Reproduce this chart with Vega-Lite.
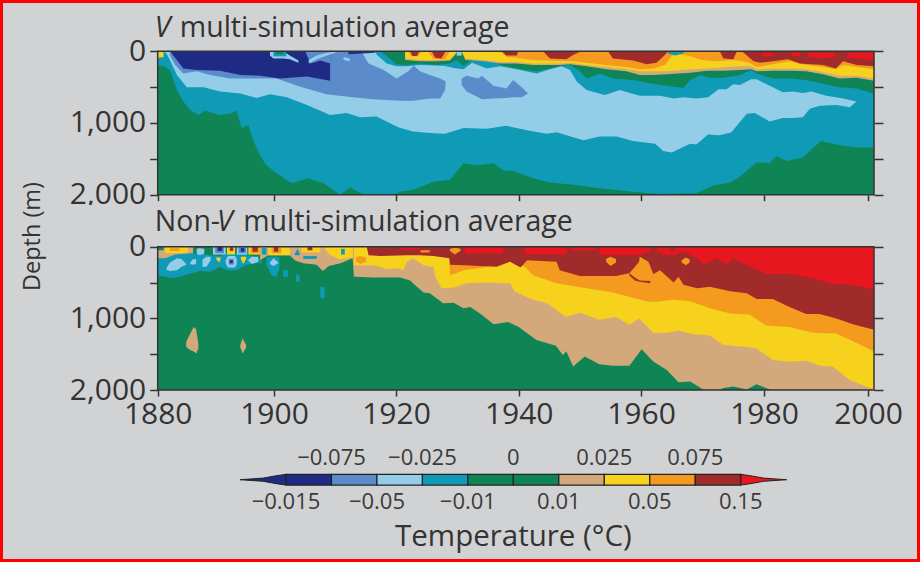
{"$schema":"https://vega.github.io/schema/vega-lite/v6.json","background":"#ff0000","padding":3,"bounds":"flush","spacing":0,"config":{"view":{"stroke":null,"fill":"#d1d2d4"},"font":"Open Sans","axis":{"grid":false,"domain":false,"title":null,"tickColor":"#333333","tickWidth":1.5,"labelColor":"#333333","labelFont":"Open Sans","labelFontSize":30,"labelOverlap":false,"labelFlush":false}},
"datasets":{
"v":[
{"band":"green","poly":"g0","year":1880,"top":0,"bottom":2000},{"band":"green","poly":"g0","year":2001,"top":0,"bottom":2000},
{"band":"teal","poly":"t1","year":1880,"top":0,"bottom":190},{"band":"teal","poly":"t1","year":1881,"top":0,"bottom":210},{"band":"teal","poly":"t1","year":1882.1,"top":0,"bottom":260},{"band":"teal","poly":"t1","year":1883.3,"top":0,"bottom":540},{"band":"teal","poly":"t1","year":1884.4,"top":0,"bottom":700},{"band":"teal","poly":"t1","year":1885.6,"top":0,"bottom":820},{"band":"teal","poly":"t1","year":1887,"top":0,"bottom":890},{"band":"teal","poly":"t1","year":1888.1,"top":0,"bottom":830},{"band":"teal","poly":"t1","year":1890.7,"top":0,"bottom":890},{"band":"teal","poly":"t1","year":1892.4,"top":0,"bottom":870},{"band":"teal","poly":"t1","year":1893.6,"top":0,"bottom":830},{"band":"teal","poly":"t1","year":1894.4,"top":0,"bottom":1070},{"band":"teal","poly":"t1","year":1895.6,"top":0,"bottom":1030},{"band":"teal","poly":"t1","year":1896.4,"top":0,"bottom":1240},{"band":"teal","poly":"t1","year":1897.6,"top":0,"bottom":1450},{"band":"teal","poly":"t1","year":1898.7,"top":0,"bottom":1590},{"band":"teal","poly":"t1","year":1900.4,"top":0,"bottom":1700},{"band":"teal","poly":"t1","year":1902.9,"top":0,"bottom":1840},{"band":"teal","poly":"t1","year":1905.6,"top":0,"bottom":1770},{"band":"teal","poly":"t1","year":1908.1,"top":0,"bottom":1840},{"band":"teal","poly":"t1","year":1910.8,"top":0,"bottom":2000},{"band":"teal","poly":"t1","year":1912.5,"top":0,"bottom":1900},{"band":"teal","poly":"t1","year":1914.7,"top":0,"bottom":2000},{"band":"teal","poly":"t1","year":1919.6,"top":0,"bottom":2000},{"band":"teal","poly":"t1","year":1920.7,"top":0,"bottom":1960},{"band":"teal","poly":"t1","year":1922.8,"top":0,"bottom":1930},{"band":"teal","poly":"t1","year":1926.1,"top":0,"bottom":1820},{"band":"teal","poly":"t1","year":1928.8,"top":0,"bottom":1790},{"band":"teal","poly":"t1","year":1931,"top":0,"bottom":1560},{"band":"teal","poly":"t1","year":1933.2,"top":0,"bottom":1590},{"band":"teal","poly":"t1","year":1935.9,"top":0,"bottom":1560},{"band":"teal","poly":"t1","year":1937.5,"top":0,"bottom":1660},{"band":"teal","poly":"t1","year":1939.1,"top":0,"bottom":1670},{"band":"teal","poly":"t1","year":1942.4,"top":0,"bottom":1770},{"band":"teal","poly":"t1","year":1945.1,"top":0,"bottom":1830},{"band":"teal","poly":"t1","year":1948.9,"top":0,"bottom":1860},{"band":"teal","poly":"t1","year":1953.2,"top":0,"bottom":1910},{"band":"teal","poly":"t1","year":1958.7,"top":0,"bottom":1960},{"band":"teal","poly":"t1","year":1963,"top":0,"bottom":1990},{"band":"teal","poly":"t1","year":1969,"top":0,"bottom":1980},{"band":"teal","poly":"t1","year":1971.8,"top":0,"bottom":1870},{"band":"teal","poly":"t1","year":1974.5,"top":0,"bottom":1830},{"band":"teal","poly":"t1","year":1976.1,"top":0,"bottom":1750},{"band":"teal","poly":"t1","year":1978.8,"top":0,"bottom":1550},{"band":"teal","poly":"t1","year":1981.1,"top":0,"bottom":1560},{"band":"teal","poly":"t1","year":1982.4,"top":0,"bottom":1460},{"band":"teal","poly":"t1","year":1984.3,"top":0,"bottom":1530},{"band":"teal","poly":"t1","year":1987.5,"top":0,"bottom":1480},{"band":"teal","poly":"t1","year":1989.4,"top":0,"bottom":1350},{"band":"teal","poly":"t1","year":1991,"top":0,"bottom":1250},{"band":"teal","poly":"t1","year":1994.5,"top":0,"bottom":1310},{"band":"teal","poly":"t1","year":1997.8,"top":0,"bottom":1340},{"band":"teal","poly":"t1","year":2001,"top":0,"bottom":1340},
{"band":"light","poly":"l1","year":1881,"top":0,"bottom":0},{"band":"light","poly":"l1","year":1881.5,"top":0,"bottom":30},{"band":"light","poly":"l1","year":1882.1,"top":0,"bottom":120},{"band":"light","poly":"l1","year":1883.3,"top":0,"bottom":330},{"band":"light","poly":"l1","year":1885,"top":0,"bottom":500},{"band":"light","poly":"l1","year":1887.9,"top":0,"bottom":500},{"band":"light","poly":"l1","year":1890.7,"top":0,"bottom":560},{"band":"light","poly":"l1","year":1894.2,"top":0,"bottom":590},{"band":"light","poly":"l1","year":1897,"top":0,"bottom":650},{"band":"light","poly":"l1","year":1899.3,"top":0,"bottom":600},{"band":"light","poly":"l1","year":1902.1,"top":0,"bottom":640},{"band":"light","poly":"l1","year":1905.4,"top":0,"bottom":750},{"band":"light","poly":"l1","year":1909.2,"top":0,"bottom":890},{"band":"light","poly":"l1","year":1911.9,"top":0,"bottom":860},{"band":"light","poly":"l1","year":1914.1,"top":0,"bottom":920},{"band":"light","poly":"l1","year":1916.8,"top":0,"bottom":910},{"band":"light","poly":"l1","year":1920.1,"top":0,"bottom":1050},{"band":"light","poly":"l1","year":1920.7,"top":0,"bottom":1070},{"band":"light","poly":"l1","year":1922.8,"top":0,"bottom":1120},{"band":"light","poly":"l1","year":1925.5,"top":0,"bottom":1140},{"band":"light","poly":"l1","year":1928,"top":0,"bottom":1150},{"band":"light","poly":"l1","year":1931,"top":0,"bottom":1070},{"band":"light","poly":"l1","year":1934.8,"top":0,"bottom":1080},{"band":"light","poly":"l1","year":1938,"top":0,"bottom":1040},{"band":"light","poly":"l1","year":1942.4,"top":0,"bottom":1120},{"band":"light","poly":"l1","year":1944.6,"top":0,"bottom":1150},{"band":"light","poly":"l1","year":1946.2,"top":0,"bottom":1130},{"band":"light","poly":"l1","year":1948.9,"top":0,"bottom":1200},{"band":"light","poly":"l1","year":1950.6,"top":0,"bottom":1240},{"band":"light","poly":"l1","year":1953.2,"top":0,"bottom":1190},{"band":"light","poly":"l1","year":1956,"top":0,"bottom":1190},{"band":"light","poly":"l1","year":1958.7,"top":0,"bottom":1250},{"band":"light","poly":"l1","year":1962.3,"top":0,"bottom":1290},{"band":"light","poly":"l1","year":1963.6,"top":0,"bottom":1390},{"band":"light","poly":"l1","year":1965,"top":0,"bottom":1410},{"band":"light","poly":"l1","year":1968,"top":0,"bottom":1290},{"band":"light","poly":"l1","year":1969,"top":0,"bottom":1300},{"band":"light","poly":"l1","year":1970.9,"top":0,"bottom":1160},{"band":"light","poly":"l1","year":1972.8,"top":0,"bottom":1170},{"band":"light","poly":"l1","year":1974.7,"top":0,"bottom":1130},{"band":"light","poly":"l1","year":1977.2,"top":0,"bottom":870},{"band":"light","poly":"l1","year":1978.5,"top":0,"bottom":860},{"band":"light","poly":"l1","year":1981.1,"top":0,"bottom":980},{"band":"light","poly":"l1","year":1983.6,"top":0,"bottom":930},{"band":"light","poly":"l1","year":1985.5,"top":0,"bottom":930},{"band":"light","poly":"l1","year":1987.5,"top":0,"bottom":920},{"band":"light","poly":"l1","year":1988.8,"top":0,"bottom":800},{"band":"light","poly":"l1","year":1990.7,"top":0,"bottom":760},{"band":"light","poly":"l1","year":1993.9,"top":0,"bottom":750},{"band":"light","poly":"l1","year":1996.5,"top":0,"bottom":780},{"band":"light","poly":"l1","year":1997.8,"top":0,"bottom":700},
{"band":"mid","poly":"m1","year":1882.1,"top":0,"bottom":50},{"band":"mid","poly":"m1","year":1883,"top":0,"bottom":190},{"band":"mid","poly":"m1","year":1884.4,"top":0,"bottom":310},{"band":"mid","poly":"m1","year":1886.7,"top":0,"bottom":280},{"band":"mid","poly":"m1","year":1889,"top":0,"bottom":330},{"band":"mid","poly":"m1","year":1892.4,"top":0,"bottom":380},{"band":"mid","poly":"m1","year":1896.4,"top":0,"bottom":380},{"band":"mid","poly":"m1","year":1900.4,"top":0,"bottom":380},{"band":"mid","poly":"m1","year":1904.2,"top":0,"bottom":490},{"band":"mid","poly":"m1","year":1908.6,"top":0,"bottom":600},{"band":"mid","poly":"m1","year":1912.9,"top":0,"bottom":640},{"band":"mid","poly":"m1","year":1916.2,"top":0,"bottom":670},{"band":"mid","poly":"m1","year":1920.6,"top":0,"bottom":690},{"band":"mid","poly":"m1","year":1922.8,"top":0,"bottom":690},{"band":"mid","poly":"m1","year":1925.5,"top":0,"bottom":660},{"band":"mid","poly":"m1","year":1927.2,"top":0,"bottom":660},{"band":"mid","poly":"m1","year":1928,"top":0,"bottom":540},{"band":"mid","poly":"m1","year":1928.1,"top":0,"bottom":420},
{"band":"light","poly":"l2","year":1914.3,"top":0,"bottom":0},{"band":"light","poly":"l2","year":1915.5,"top":0,"bottom":170},{"band":"light","poly":"l2","year":1918,"top":0,"bottom":260},{"band":"light","poly":"l2","year":1920.1,"top":0,"bottom":380},{"band":"light","poly":"l2","year":1922,"top":0,"bottom":280},{"band":"light","poly":"l2","year":1922.9,"top":0,"bottom":200},{"band":"light","poly":"l2","year":1923.9,"top":0,"bottom":280},{"band":"light","poly":"l2","year":1925.5,"top":0,"bottom":330},{"band":"light","poly":"l2","year":1927.2,"top":0,"bottom":380},{"band":"light","poly":"l2","year":1928.2,"top":0,"bottom":420},
{"band":"mid","poly":"m2","year":1930.7,"top":380,"bottom":470},{"band":"mid","poly":"m2","year":1931.5,"top":340,"bottom":560},{"band":"mid","poly":"m2","year":1933.4,"top":380,"bottom":640},{"band":"mid","poly":"m2","year":1934,"top":340,"bottom":670},{"band":"mid","poly":"m2","year":1935.9,"top":480,"bottom":660},{"band":"mid","poly":"m2","year":1938,"top":520,"bottom":650},{"band":"mid","poly":"m2","year":1939.1,"top":400,"bottom":640},{"band":"mid","poly":"m2","year":1940.5,"top":500,"bottom":640},{"band":"mid","poly":"m2","year":1941.5,"top":590,"bottom":590},
{"band":"navy","poly":"n1","year":1882.1,"top":0,"bottom":0},{"band":"navy","poly":"n1","year":1883.3,"top":0,"bottom":120},{"band":"navy","poly":"n1","year":1884.4,"top":0,"bottom":240},{"band":"navy","poly":"n1","year":1886.7,"top":0,"bottom":260},{"band":"navy","poly":"n1","year":1890.7,"top":0,"bottom":270},{"band":"navy","poly":"n1","year":1894.2,"top":0,"bottom":330},{"band":"navy","poly":"n1","year":1897.6,"top":0,"bottom":340},{"band":"navy","poly":"n1","year":1901,"top":0,"bottom":380},{"band":"navy","poly":"n1","year":1905.4,"top":0,"bottom":350},{"band":"navy","poly":"n1","year":1909.2,"top":0,"bottom":410},
{"band":"mid","poly":"m3","year":1905.1,"top":0,"bottom":0},{"band":"mid","poly":"m3","year":1906,"top":0,"bottom":170},{"band":"mid","poly":"m3","year":1907.6,"top":0,"bottom":130},{"band":"mid","poly":"m3","year":1909.2,"top":0,"bottom":170},
{"band":"light","poly":"l3","year":1905.7,"top":120,"bottom":170},{"band":"light","poly":"l3","year":1907,"top":60,"bottom":110},{"band":"light","poly":"l3","year":1908.7,"top":20,"bottom":60},{"band":"light","poly":"l3","year":1910.4,"top":0,"bottom":10},
{"band":"navy","poly":"n2","year":1912.2,"top":0,"bottom":40},{"band":"navy","poly":"n2","year":1916.5,"top":0,"bottom":20},
{"band":"light","poly":"l4","year":1911.4,"top":80,"bottom":120},{"band":"light","poly":"l4","year":1912.4,"top":100,"bottom":140},
{"band":"light","poly":"l5","year":1899.3,"top":0,"bottom":60},{"band":"light","poly":"l5","year":1899.9,"top":0,"bottom":100},{"band":"light","poly":"l5","year":1901.5,"top":0,"bottom":100},{"band":"light","poly":"l5","year":1902.6,"top":60,"bottom":110},{"band":"light","poly":"l5","year":1904,"top":130,"bottom":160},
{"band":"teal","poly":"t5","year":1899.9,"top":0,"bottom":70},{"band":"teal","poly":"t5","year":1902,"top":0,"bottom":70},
{"band":"green","poly":"g5","year":1900.3,"top":0,"bottom":40},{"band":"green","poly":"g5","year":1901.5,"top":0,"bottom":40},
{"band":"yellow","poly":"y0","year":1880,"top":0,"bottom":90},{"band":"yellow","poly":"y0","year":1881,"top":0,"bottom":80},
{"band":"teal","poly":"t2","year":1916.5,"top":0,"bottom":0},{"band":"teal","poly":"t2","year":1916.9,"top":0,"bottom":50},{"band":"teal","poly":"t2","year":1918.5,"top":0,"bottom":170},{"band":"teal","poly":"t2","year":1920.1,"top":0,"bottom":210},{"band":"teal","poly":"t2","year":1921.7,"top":0,"bottom":210},{"band":"teal","poly":"t2","year":1923.9,"top":0,"bottom":190},{"band":"teal","poly":"t2","year":1927.7,"top":0,"bottom":200},{"band":"teal","poly":"t2","year":1929.9,"top":0,"bottom":240},{"band":"teal","poly":"t2","year":1931,"top":0,"bottom":250},{"band":"teal","poly":"t2","year":1932.4,"top":0,"bottom":160},{"band":"teal","poly":"t2","year":1934.8,"top":0,"bottom":240},{"band":"teal","poly":"t2","year":1937,"top":0,"bottom":210},{"band":"teal","poly":"t2","year":1939.7,"top":0,"bottom":250},{"band":"teal","poly":"t2","year":1942.9,"top":0,"bottom":310},{"band":"teal","poly":"t2","year":1945.1,"top":0,"bottom":250},{"band":"teal","poly":"t2","year":1947,"top":0,"bottom":210},{"band":"teal","poly":"t2","year":1948.4,"top":0,"bottom":260},{"band":"teal","poly":"t2","year":1949.5,"top":0,"bottom":420},{"band":"teal","poly":"t2","year":1951.1,"top":0,"bottom":540},{"band":"teal","poly":"t2","year":1954.1,"top":0,"bottom":610},{"band":"teal","poly":"t2","year":1956.5,"top":0,"bottom":540},{"band":"teal","poly":"t2","year":1959.8,"top":0,"bottom":620},{"band":"teal","poly":"t2","year":1963.1,"top":0,"bottom":620},{"band":"teal","poly":"t2","year":1965.3,"top":0,"bottom":660},{"band":"teal","poly":"t2","year":1966.9,"top":0,"bottom":640},{"band":"teal","poly":"t2","year":1969,"top":0,"bottom":660},{"band":"teal","poly":"t2","year":1970.9,"top":0,"bottom":640},{"band":"teal","poly":"t2","year":1972.6,"top":0,"bottom":530},{"band":"teal","poly":"t2","year":1973.9,"top":0,"bottom":530},{"band":"teal","poly":"t2","year":1975,"top":0,"bottom":460},{"band":"teal","poly":"t2","year":1976.1,"top":0,"bottom":470},{"band":"teal","poly":"t2","year":1977.9,"top":0,"bottom":390},{"band":"teal","poly":"t2","year":1978.8,"top":0,"bottom":390},{"band":"teal","poly":"t2","year":1981.1,"top":0,"bottom":480},{"band":"teal","poly":"t2","year":1983.6,"top":0,"bottom":570},{"band":"teal","poly":"t2","year":1985.5,"top":0,"bottom":560},{"band":"teal","poly":"t2","year":1987.5,"top":0,"bottom":580},{"band":"teal","poly":"t2","year":1989.1,"top":0,"bottom":560},{"band":"teal","poly":"t2","year":1992,"top":0,"bottom":620},{"band":"teal","poly":"t2","year":1995.2,"top":0,"bottom":660},{"band":"teal","poly":"t2","year":1997.8,"top":0,"bottom":700},{"band":"teal","poly":"t2","year":2001,"top":0,"bottom":700},
{"band":"green","poly":"g2","year":1917.4,"top":0,"bottom":0},{"band":"green","poly":"g2","year":1918.5,"top":0,"bottom":70},{"band":"green","poly":"g2","year":1920.1,"top":0,"bottom":180},{"band":"green","poly":"g2","year":1921.7,"top":0,"bottom":190},{"band":"green","poly":"g2","year":1923.9,"top":0,"bottom":170},{"band":"green","poly":"g2","year":1926.6,"top":0,"bottom":190},{"band":"green","poly":"g2","year":1928.8,"top":0,"bottom":170},{"band":"green","poly":"g2","year":1929.9,"top":0,"bottom":120},{"band":"green","poly":"g2","year":1931,"top":0,"bottom":210},{"band":"green","poly":"g2","year":1932,"top":0,"bottom":140},{"band":"green","poly":"g2","year":1933.7,"top":0,"bottom":120},{"band":"green","poly":"g2","year":1934.8,"top":0,"bottom":120},{"band":"green","poly":"g2","year":1935.9,"top":0,"bottom":130},{"band":"green","poly":"g2","year":1937,"top":0,"bottom":190},{"band":"green","poly":"g2","year":1939.7,"top":0,"bottom":240},{"band":"green","poly":"g2","year":1942.9,"top":0,"bottom":280},{"band":"green","poly":"g2","year":1945.1,"top":0,"bottom":240},{"band":"green","poly":"g2","year":1947,"top":0,"bottom":200},{"band":"green","poly":"g2","year":1948.4,"top":0,"bottom":190},{"band":"green","poly":"g2","year":1950,"top":0,"bottom":280},{"band":"green","poly":"g2","year":1951.1,"top":0,"bottom":380},{"band":"green","poly":"g2","year":1953.3,"top":0,"bottom":310},{"band":"green","poly":"g2","year":1955.4,"top":0,"bottom":380},{"band":"green","poly":"g2","year":1958.7,"top":0,"bottom":400},{"band":"green","poly":"g2","year":1963.1,"top":0,"bottom":470},{"band":"green","poly":"g2","year":1966.9,"top":0,"bottom":510},{"band":"green","poly":"g2","year":1968,"top":0,"bottom":400},{"band":"green","poly":"g2","year":1969.6,"top":0,"bottom":330},{"band":"green","poly":"g2","year":1971.2,"top":0,"bottom":370},{"band":"green","poly":"g2","year":1973.4,"top":0,"bottom":370},{"band":"green","poly":"g2","year":1976.1,"top":0,"bottom":330},{"band":"green","poly":"g2","year":1977.9,"top":0,"bottom":260},{"band":"green","poly":"g2","year":1978.8,"top":0,"bottom":310},{"band":"green","poly":"g2","year":1981.7,"top":0,"bottom":380},{"band":"green","poly":"g2","year":1984.9,"top":0,"bottom":380},{"band":"green","poly":"g2","year":1988.1,"top":0,"bottom":400},{"band":"green","poly":"g2","year":1991.3,"top":0,"bottom":450},{"band":"green","poly":"g2","year":1994.5,"top":0,"bottom":500},{"band":"green","poly":"g2","year":1997.8,"top":0,"bottom":520},{"band":"green","poly":"g2","year":2001,"top":0,"bottom":590},
{"band":"tan","poly":"a2","year":1921.5,"top":0,"bottom":120},{"band":"tan","poly":"a2","year":1923.9,"top":0,"bottom":140},{"band":"tan","poly":"a2","year":1926.6,"top":0,"bottom":140},{"band":"tan","poly":"a2","year":1928.8,"top":0,"bottom":130},{"band":"tan","poly":"a2","year":1929.6,"top":0,"bottom":50},{"band":"tan","poly":"a2","year":1930,"top":0,"bottom":0},{"band":"tan","poly":"a2","year":1930.7,"top":0,"bottom":0},{"band":"tan","poly":"a2","year":1931.3,"top":0,"bottom":120},{"band":"tan","poly":"a2","year":1934.3,"top":0,"bottom":140},{"band":"tan","poly":"a2","year":1937,"top":0,"bottom":170},{"band":"tan","poly":"a2","year":1939.7,"top":0,"bottom":170},{"band":"tan","poly":"a2","year":1942.4,"top":0,"bottom":190},{"band":"tan","poly":"a2","year":1946.7,"top":0,"bottom":190},{"band":"tan","poly":"a2","year":1948.4,"top":0,"bottom":180},{"band":"tan","poly":"a2","year":1951.1,"top":0,"bottom":210},{"band":"tan","poly":"a2","year":1954.3,"top":0,"bottom":250},{"band":"tan","poly":"a2","year":1957.6,"top":0,"bottom":280},{"band":"tan","poly":"a2","year":1959.8,"top":0,"bottom":330},{"band":"tan","poly":"a2","year":1962,"top":0,"bottom":330},{"band":"tan","poly":"a2","year":1964.2,"top":0,"bottom":320},{"band":"tan","poly":"a2","year":1968,"top":0,"bottom":300},{"band":"tan","poly":"a2","year":1970.7,"top":0,"bottom":270},{"band":"tan","poly":"a2","year":1973.4,"top":0,"bottom":270},{"band":"tan","poly":"a2","year":1976.1,"top":0,"bottom":260},{"band":"tan","poly":"a2","year":1977.9,"top":0,"bottom":250},{"band":"tan","poly":"a2","year":1978.8,"top":0,"bottom":280},{"band":"tan","poly":"a2","year":1981.7,"top":0,"bottom":270},{"band":"tan","poly":"a2","year":1984.9,"top":0,"bottom":270},{"band":"tan","poly":"a2","year":1988.1,"top":0,"bottom":280},{"band":"tan","poly":"a2","year":1991.3,"top":0,"bottom":320},{"band":"tan","poly":"a2","year":1994.5,"top":0,"bottom":380},{"band":"tan","poly":"a2","year":1997.8,"top":0,"bottom":370},{"band":"tan","poly":"a2","year":2001,"top":0,"bottom":410},
{"band":"yellow","poly":"y2","year":1921.5,"top":0,"bottom":100},{"band":"yellow","poly":"y2","year":1923.9,"top":0,"bottom":120},{"band":"yellow","poly":"y2","year":1926.6,"top":0,"bottom":120},{"band":"yellow","poly":"y2","year":1928.8,"top":0,"bottom":110},{"band":"yellow","poly":"y2","year":1929.6,"top":0,"bottom":40},{"band":"yellow","poly":"y2","year":1930,"top":0,"bottom":0},{"band":"yellow","poly":"y2","year":1930.7,"top":0,"bottom":0},{"band":"yellow","poly":"y2","year":1931.3,"top":0,"bottom":100},{"band":"yellow","poly":"y2","year":1934.3,"top":0,"bottom":120},{"band":"yellow","poly":"y2","year":1937,"top":0,"bottom":150},{"band":"yellow","poly":"y2","year":1939.7,"top":0,"bottom":150},{"band":"yellow","poly":"y2","year":1942.4,"top":0,"bottom":170},{"band":"yellow","poly":"y2","year":1946.7,"top":0,"bottom":170},{"band":"yellow","poly":"y2","year":1948.4,"top":0,"bottom":160},{"band":"yellow","poly":"y2","year":1951.1,"top":0,"bottom":190},{"band":"yellow","poly":"y2","year":1954.3,"top":0,"bottom":220},{"band":"yellow","poly":"y2","year":1957.6,"top":0,"bottom":250},{"band":"yellow","poly":"y2","year":1959.8,"top":0,"bottom":280},{"band":"yellow","poly":"y2","year":1964.2,"top":0,"bottom":280},{"band":"yellow","poly":"y2","year":1968,"top":0,"bottom":250},{"band":"yellow","poly":"y2","year":1970.7,"top":0,"bottom":240},{"band":"yellow","poly":"y2","year":1976.1,"top":0,"bottom":210},{"band":"yellow","poly":"y2","year":1977.9,"top":0,"bottom":210},{"band":"yellow","poly":"y2","year":1978.8,"top":0,"bottom":250},{"band":"yellow","poly":"y2","year":1981.7,"top":0,"bottom":240},{"band":"yellow","poly":"y2","year":1984.9,"top":0,"bottom":240},{"band":"yellow","poly":"y2","year":1988.1,"top":0,"bottom":250},{"band":"yellow","poly":"y2","year":1991.3,"top":0,"bottom":290},{"band":"yellow","poly":"y2","year":1994.5,"top":0,"bottom":340},{"band":"yellow","poly":"y2","year":1997.8,"top":0,"bottom":340},{"band":"yellow","poly":"y2","year":2001,"top":0,"bottom":380},
{"band":"orange","poly":"o1","year":1922,"top":0,"bottom":0},{"band":"orange","poly":"o1","year":1922.5,"top":0,"bottom":70},{"band":"orange","poly":"o1","year":1923.6,"top":0,"bottom":70},{"band":"orange","poly":"o1","year":1924.2,"top":0,"bottom":0},
{"band":"orange","poly":"o2","year":1925.2,"top":0,"bottom":0},{"band":"orange","poly":"o2","year":1926.1,"top":0,"bottom":110},{"band":"orange","poly":"o2","year":1928,"top":0,"bottom":110},{"band":"orange","poly":"o2","year":1928.8,"top":0,"bottom":0},
{"band":"orange","poly":"o3","year":1937,"top":0,"bottom":0},{"band":"orange","poly":"o3","year":1938,"top":0,"bottom":80},{"band":"orange","poly":"o3","year":1939.7,"top":0,"bottom":90},{"band":"orange","poly":"o3","year":1941.3,"top":0,"bottom":110},{"band":"orange","poly":"o3","year":1942.4,"top":0,"bottom":120},{"band":"orange","poly":"o3","year":1944.6,"top":0,"bottom":130},{"band":"orange","poly":"o3","year":1948.9,"top":0,"bottom":140},{"band":"orange","poly":"o3","year":1951.1,"top":0,"bottom":160},{"band":"orange","poly":"o3","year":1954.3,"top":0,"bottom":190},{"band":"orange","poly":"o3","year":1957.6,"top":0,"bottom":220},{"band":"orange","poly":"o3","year":1959.8,"top":0,"bottom":250},{"band":"orange","poly":"o3","year":1962,"top":0,"bottom":240},{"band":"orange","poly":"o3","year":1963.9,"top":0,"bottom":190},{"band":"orange","poly":"o3","year":1965.3,"top":0,"bottom":30},{"band":"orange","poly":"o3","year":1967.4,"top":0,"bottom":50},{"band":"orange","poly":"o3","year":1969.9,"top":0,"bottom":120},{"band":"orange","poly":"o3","year":1972.3,"top":0,"bottom":140},{"band":"orange","poly":"o3","year":1975,"top":0,"bottom":120},{"band":"orange","poly":"o3","year":1976.6,"top":0,"bottom":140},{"band":"orange","poly":"o3","year":1977.9,"top":0,"bottom":170},{"band":"orange","poly":"o3","year":1978.8,"top":0,"bottom":220},{"band":"orange","poly":"o3","year":1981.7,"top":0,"bottom":180},{"band":"orange","poly":"o3","year":1984.9,"top":0,"bottom":140},{"band":"orange","poly":"o3","year":1988.1,"top":0,"bottom":190},{"band":"orange","poly":"o3","year":1991.3,"top":0,"bottom":220},{"band":"orange","poly":"o3","year":1993.8,"top":0,"bottom":250},{"band":"orange","poly":"o3","year":1995.2,"top":0,"bottom":190},{"band":"orange","poly":"o3","year":1997.8,"top":0,"bottom":220},{"band":"orange","poly":"o3","year":2001,"top":0,"bottom":250},
{"band":"dark","poly":"r1","year":1922.3,"top":0,"bottom":0},{"band":"dark","poly":"r1","year":1922.7,"top":0,"bottom":65},{"band":"dark","poly":"r1","year":1923.4,"top":0,"bottom":65},{"band":"dark","poly":"r1","year":1923.8,"top":0,"bottom":0},
{"band":"dark","poly":"r2","year":1925.8,"top":0,"bottom":0},{"band":"dark","poly":"r2","year":1926.4,"top":0,"bottom":90},{"band":"dark","poly":"r2","year":1927.4,"top":0,"bottom":100},{"band":"dark","poly":"r2","year":1928.1,"top":0,"bottom":0},
{"band":"dark","poly":"r3","year":1937.2,"top":0,"bottom":0},{"band":"dark","poly":"r3","year":1938,"top":0,"bottom":60},{"band":"dark","poly":"r3","year":1939.7,"top":0,"bottom":60},{"band":"dark","poly":"r3","year":1939.9,"top":0,"bottom":0},
{"band":"dark","poly":"r4","year":1944,"top":0,"bottom":0},{"band":"dark","poly":"r4","year":1945.1,"top":0,"bottom":100},{"band":"dark","poly":"r4","year":1947.8,"top":0,"bottom":110},{"band":"dark","poly":"r4","year":1948.9,"top":0,"bottom":50},{"band":"dark","poly":"r4","year":1950.2,"top":0,"bottom":0},
{"band":"dark","poly":"r5","year":1954.6,"top":0,"bottom":0},{"band":"dark","poly":"r5","year":1955.4,"top":0,"bottom":100},{"band":"dark","poly":"r5","year":1958.7,"top":0,"bottom":130},{"band":"dark","poly":"r5","year":1960.9,"top":0,"bottom":180},{"band":"dark","poly":"r5","year":1962.5,"top":0,"bottom":160},{"band":"dark","poly":"r5","year":1963.9,"top":0,"bottom":50},{"band":"dark","poly":"r5","year":1964.4,"top":0,"bottom":0},
{"band":"dark","poly":"r6","year":1972.8,"top":0,"bottom":0},{"band":"dark","poly":"r6","year":1973.4,"top":0,"bottom":100},{"band":"dark","poly":"r6","year":1975,"top":0,"bottom":110},{"band":"dark","poly":"r6","year":1975.6,"top":0,"bottom":0},
{"band":"dark","poly":"r7","year":1976.4,"top":0,"bottom":0},{"band":"dark","poly":"r7","year":1978.3,"top":0,"bottom":140},{"band":"dark","poly":"r7","year":1979.4,"top":0,"bottom":160},{"band":"dark","poly":"r7","year":1981.7,"top":0,"bottom":140},{"band":"dark","poly":"r7","year":1984.6,"top":0,"bottom":110},{"band":"dark","poly":"r7","year":1986.9,"top":0,"bottom":170},{"band":"dark","poly":"r7","year":1991.3,"top":0,"bottom":190},{"band":"dark","poly":"r7","year":1993.8,"top":0,"bottom":240},{"band":"dark","poly":"r7","year":1995.2,"top":0,"bottom":140},{"band":"dark","poly":"r7","year":1997.8,"top":0,"bottom":190},{"band":"dark","poly":"r7","year":2001,"top":0,"bottom":210},
{"band":"red","poly":"s1","year":1979.7,"top":20,"bottom":70},{"band":"red","poly":"s1","year":1981.7,"top":20,"bottom":70},
{"band":"red","poly":"s2","year":1985.3,"top":20,"bottom":70},{"band":"red","poly":"s2","year":1986.9,"top":20,"bottom":70},
{"band":"red","poly":"s3","year":1988.4,"top":20,"bottom":80},{"band":"red","poly":"s3","year":1991,"top":20,"bottom":100},{"band":"red","poly":"s3","year":1993.6,"top":20,"bottom":80},
{"band":"red","poly":"s4","year":1996,"top":20,"bottom":90},{"band":"red","poly":"s4","year":2001,"top":20,"bottom":120},
{"band":"teal","poly":"t6","year":1964.4,"top":0,"bottom":30},{"band":"teal","poly":"t6","year":1965.5,"top":0,"bottom":60},{"band":"teal","poly":"t6","year":1966.9,"top":0,"bottom":30},
{"band":"light","poly":"l6","year":1929.9,"top":0,"bottom":60},{"band":"light","poly":"l6","year":1930.7,"top":0,"bottom":60}
],
"nonv":[
{"band":"green","poly":"g0","year":1880,"top":0,"bottom":2000},{"band":"green","poly":"g0","year":2001,"top":0,"bottom":2000},
{"band":"tan","poly":"a1","year":1897.6,"top":0,"bottom":190},{"band":"tan","poly":"a1","year":1899,"top":0,"bottom":120},{"band":"tan","poly":"a1","year":1902.6,"top":0,"bottom":120},{"band":"tan","poly":"a1","year":1903.4,"top":0,"bottom":190},{"band":"tan","poly":"a1","year":1904.8,"top":0,"bottom":230},{"band":"tan","poly":"a1","year":1907,"top":0,"bottom":250},{"band":"tan","poly":"a1","year":1908,"top":0,"bottom":340},{"band":"tan","poly":"a1","year":1909,"top":0,"bottom":270},{"band":"tan","poly":"a1","year":1910.9,"top":0,"bottom":230},{"band":"tan","poly":"a1","year":1912.9,"top":0,"bottom":160},{"band":"tan","poly":"a1","year":1913.1,"top":0,"bottom":420},{"band":"tan","poly":"a1","year":1916.4,"top":0,"bottom":430},{"band":"tan","poly":"a1","year":1920.7,"top":0,"bottom":430},{"band":"tan","poly":"a1","year":1922.3,"top":0,"bottom":470},{"band":"tan","poly":"a1","year":1923.4,"top":0,"bottom":560},{"band":"tan","poly":"a1","year":1924.5,"top":0,"bottom":640},{"band":"tan","poly":"a1","year":1925.5,"top":0,"bottom":650},{"band":"tan","poly":"a1","year":1927.7,"top":0,"bottom":790},{"band":"tan","poly":"a1","year":1929.4,"top":0,"bottom":780},{"band":"tan","poly":"a1","year":1931,"top":0,"bottom":860},{"band":"tan","poly":"a1","year":1932.1,"top":0,"bottom":840},{"band":"tan","poly":"a1","year":1933.7,"top":0,"bottom":930},{"band":"tan","poly":"a1","year":1935.9,"top":0,"bottom":1080},{"band":"tan","poly":"a1","year":1938.3,"top":0,"bottom":1050},{"band":"tan","poly":"a1","year":1940,"top":0,"bottom":1120},{"band":"tan","poly":"a1","year":1942.9,"top":0,"bottom":1300},{"band":"tan","poly":"a1","year":1946.1,"top":0,"bottom":1380},{"band":"tan","poly":"a1","year":1947.2,"top":0,"bottom":1510},{"band":"tan","poly":"a1","year":1947.8,"top":0,"bottom":1460},{"band":"tan","poly":"a1","year":1948.9,"top":0,"bottom":1670},{"band":"tan","poly":"a1","year":1950.8,"top":0,"bottom":1530},{"band":"tan","poly":"a1","year":1953.2,"top":0,"bottom":1640},{"band":"tan","poly":"a1","year":1955.4,"top":0,"bottom":1660},{"band":"tan","poly":"a1","year":1958.1,"top":0,"bottom":1660},{"band":"tan","poly":"a1","year":1960.1,"top":0,"bottom":1430},{"band":"tan","poly":"a1","year":1962,"top":0,"bottom":1600},{"band":"tan","poly":"a1","year":1964.2,"top":0,"bottom":1720},{"band":"tan","poly":"a1","year":1966.1,"top":0,"bottom":1890},{"band":"tan","poly":"a1","year":1968,"top":0,"bottom":1880},{"band":"tan","poly":"a1","year":1970.1,"top":0,"bottom":1990},{"band":"tan","poly":"a1","year":1970.4,"top":0,"bottom":2000},{"band":"tan","poly":"a1","year":1972.6,"top":0,"bottom":2000},{"band":"tan","poly":"a1","year":1973.4,"top":0,"bottom":1970},{"band":"tan","poly":"a1","year":1975,"top":0,"bottom":1950},{"band":"tan","poly":"a1","year":1977.2,"top":0,"bottom":1990},{"band":"tan","poly":"a1","year":1978.8,"top":0,"bottom":1920},{"band":"tan","poly":"a1","year":1981.4,"top":0,"bottom":2000},{"band":"tan","poly":"a1","year":2001,"top":0,"bottom":2000},
{"band":"tan","poly":"a2","year":1884.9,"top":1330,"bottom":1400},{"band":"tan","poly":"a2","year":1885.6,"top":1210,"bottom":1440},{"band":"tan","poly":"a2","year":1886.2,"top":1120,"bottom":1460},{"band":"tan","poly":"a2","year":1886.6,"top":1150,"bottom":1490},{"band":"tan","poly":"a2","year":1887,"top":1350,"bottom":1420},
{"band":"tan","poly":"a3","year":1894.2,"top":1370,"bottom":1400},{"band":"tan","poly":"a3","year":1894.6,"top":1280,"bottom":1490},{"band":"tan","poly":"a3","year":1895.2,"top":1370,"bottom":1410},
{"band":"teal","poly":"t1","year":1880,"top":160,"bottom":400},{"band":"teal","poly":"t1","year":1882.7,"top":100,"bottom":440},{"band":"teal","poly":"t1","year":1885,"top":100,"bottom":390},{"band":"teal","poly":"t1","year":1887.3,"top":100,"bottom":340},{"band":"teal","poly":"t1","year":1889,"top":120,"bottom":350},{"band":"teal","poly":"t1","year":1890.7,"top":130,"bottom":280},{"band":"teal","poly":"t1","year":1891.9,"top":100,"bottom":330},{"band":"teal","poly":"t1","year":1893.6,"top":90,"bottom":330},{"band":"teal","poly":"t1","year":1895.3,"top":110,"bottom":250},{"band":"teal","poly":"t1","year":1897,"top":150,"bottom":230},{"band":"teal","poly":"t1","year":1897.9,"top":200,"bottom":220},
{"band":"teal","poly":"t2","year":1898.7,"top":150,"bottom":250},{"band":"teal","poly":"t2","year":1899.6,"top":140,"bottom":400},{"band":"teal","poly":"t2","year":1900.4,"top":140,"bottom":420},{"band":"teal","poly":"t2","year":1900.9,"top":150,"bottom":300},
{"band":"teal","poly":"t3","year":1901.5,"top":330,"bottom":420},{"band":"teal","poly":"t3","year":1902.3,"top":330,"bottom":420},
{"band":"teal","poly":"t4","year":1903.6,"top":390,"bottom":490},{"band":"teal","poly":"t4","year":1904.2,"top":390,"bottom":490},
{"band":"teal","poly":"t5","year":1907.6,"top":560,"bottom":720},{"band":"teal","poly":"t5","year":1908.3,"top":560,"bottom":720},
{"band":"light","poly":"l1","year":1881.5,"top":300,"bottom":320},{"band":"light","poly":"l1","year":1882.1,"top":220,"bottom":340},{"band":"light","poly":"l1","year":1883.3,"top":160,"bottom":330},{"band":"light","poly":"l1","year":1884.1,"top":170,"bottom":280},{"band":"light","poly":"l1","year":1884.9,"top":240,"bottom":250},
{"band":"light","poly":"l2","year":1885.6,"top":220,"bottom":240},{"band":"light","poly":"l2","year":1886,"top":180,"bottom":250},{"band":"light","poly":"l2","year":1886.6,"top":170,"bottom":240},
{"band":"light","poly":"l3","year":1887.7,"top":180,"bottom":280},{"band":"light","poly":"l3","year":1888.4,"top":140,"bottom":280},{"band":"light","poly":"l3","year":1889.1,"top":140,"bottom":190},
{"band":"light","poly":"l4","year":1891.7,"top":190,"bottom":240},{"band":"light","poly":"l4","year":1892.1,"top":130,"bottom":290},{"band":"light","poly":"l4","year":1893.3,"top":130,"bottom":290},{"band":"light","poly":"l4","year":1893.6,"top":170,"bottom":240},
{"band":"mid","poly":"m4","year":1892.2,"top":170,"bottom":250},{"band":"mid","poly":"m4","year":1893.1,"top":170,"bottom":250},
{"band":"navy","poly":"n4","year":1892.4,"top":190,"bottom":230},{"band":"navy","poly":"n4","year":1892.9,"top":190,"bottom":230},
{"band":"light","poly":"l5","year":1895.6,"top":180,"bottom":200},{"band":"light","poly":"l5","year":1896.2,"top":140,"bottom":240},{"band":"light","poly":"l5","year":1897.3,"top":140,"bottom":210},
{"band":"light","poly":"l6","year":1899.3,"top":220,"bottom":240},{"band":"light","poly":"l6","year":1899.9,"top":160,"bottom":270},{"band":"light","poly":"l6","year":1900.7,"top":220,"bottom":230},
{"band":"yellow","poly":"y1","year":1894.3,"top":140,"bottom":170},{"band":"yellow","poly":"y1","year":1894.7,"top":140,"bottom":240},{"band":"yellow","poly":"y1","year":1895.2,"top":140,"bottom":170},
{"band":"yellow","poly":"y2","year":1890.1,"top":150,"bottom":180},{"band":"yellow","poly":"y2","year":1890.6,"top":150,"bottom":220},{"band":"yellow","poly":"y2","year":1890.8,"top":150,"bottom":170},
{"band":"tan","poly":"a4","year":1880,"top":0,"bottom":160},{"band":"tan","poly":"a4","year":1881.3,"top":0,"bottom":160},{"band":"tan","poly":"a4","year":1883,"top":0,"bottom":110},{"band":"tan","poly":"a4","year":1886.1,"top":0,"bottom":90},
{"band":"green","poly":"g4","year":1880,"top":0,"bottom":50},{"band":"green","poly":"g4","year":1881,"top":0,"bottom":50},
{"band":"yellow","poly":"y4","year":1881.3,"top":0,"bottom":90},{"band":"yellow","poly":"y4","year":1883,"top":0,"bottom":90},{"band":"yellow","poly":"y4","year":1885.2,"top":0,"bottom":80},
{"band":"orange","poly":"o4","year":1882.1,"top":20,"bottom":60},{"band":"orange","poly":"o4","year":1883.7,"top":20,"bottom":60},
{"band":"light","poly":"l7","year":1886.7,"top":30,"bottom":100},{"band":"light","poly":"l7","year":1887.2,"top":20,"bottom":120},{"band":"light","poly":"l7","year":1888,"top":30,"bottom":100},
{"band":"light","poly":"l8","year":1889.5,"top":0,"bottom":110},{"band":"light","poly":"l8","year":1891.7,"top":0,"bottom":110},
{"band":"mid","poly":"m8","year":1889.9,"top":0,"bottom":90},{"band":"mid","poly":"m8","year":1891.4,"top":0,"bottom":90},
{"band":"navy","poly":"n8","year":1890.3,"top":0,"bottom":60},{"band":"navy","poly":"n8","year":1891.1,"top":0,"bottom":60},
{"band":"yellow","poly":"y5","year":1891.9,"top":0,"bottom":110},{"band":"yellow","poly":"y5","year":1893.3,"top":0,"bottom":110},
{"band":"dark","poly":"r5","year":1892.4,"top":0,"bottom":60},{"band":"dark","poly":"r5","year":1893,"top":0,"bottom":60},
{"band":"light","poly":"l9","year":1893.6,"top":0,"bottom":110},{"band":"light","poly":"l9","year":1895.4,"top":0,"bottom":110},
{"band":"mid","poly":"m9","year":1893.9,"top":0,"bottom":90},{"band":"mid","poly":"m9","year":1895.2,"top":0,"bottom":90},
{"band":"navy","poly":"n9","year":1894.3,"top":20,"bottom":70},{"band":"navy","poly":"n9","year":1894.9,"top":20,"bottom":70},
{"band":"yellow","poly":"y6","year":1895.6,"top":0,"bottom":110},{"band":"yellow","poly":"y6","year":1897.6,"top":0,"bottom":110},
{"band":"orange","poly":"o6","year":1896,"top":0,"bottom":90},{"band":"orange","poly":"o6","year":1897.5,"top":0,"bottom":90},
{"band":"dark","poly":"r6","year":1896.3,"top":0,"bottom":70},{"band":"dark","poly":"r6","year":1897.2,"top":0,"bottom":70},
{"band":"teal","poly":"t7","year":1897.9,"top":20,"bottom":110},{"band":"teal","poly":"t7","year":1898.7,"top":20,"bottom":110},
{"band":"yellow","poly":"y7","year":1899,"top":0,"bottom":120},{"band":"yellow","poly":"y7","year":1902.6,"top":0,"bottom":120},
{"band":"orange","poly":"o7","year":1899.6,"top":0,"bottom":90},{"band":"orange","poly":"o7","year":1901.2,"top":0,"bottom":90},
{"band":"dark","poly":"r7","year":1900,"top":0,"bottom":70},{"band":"dark","poly":"r7","year":1900.7,"top":0,"bottom":70},
{"band":"teal","poly":"t8","year":1903.4,"top":100,"bottom":120},{"band":"teal","poly":"t8","year":1903.9,"top":30,"bottom":120},{"band":"teal","poly":"t8","year":1904.2,"top":100,"bottom":120},
{"band":"yellow","poly":"y8","year":1904.5,"top":0,"bottom":80},{"band":"yellow","poly":"y8","year":1907.6,"top":0,"bottom":80},
{"band":"dark","poly":"r8","year":1905.5,"top":0,"bottom":50},{"band":"dark","poly":"r8","year":1906.3,"top":0,"bottom":50},
{"band":"teal","poly":"t9","year":1904.8,"top":130,"bottom":170},{"band":"teal","poly":"t9","year":1907,"top":130,"bottom":170},
{"band":"yellow","poly":"y9","year":1908.3,"top":0,"bottom":30},{"band":"yellow","poly":"y9","year":1909,"top":0,"bottom":100},{"band":"yellow","poly":"y9","year":1910.8,"top":0,"bottom":180},{"band":"yellow","poly":"y9","year":1912.5,"top":0,"bottom":150},{"band":"yellow","poly":"y9","year":1912.9,"top":0,"bottom":160},
{"band":"teal","poly":"t10","year":1911,"top":30,"bottom":110},{"band":"teal","poly":"t10","year":1911.6,"top":30,"bottom":110},
{"band":"yellow","poly":"y3","year":1913.1,"top":0,"bottom":260},{"band":"yellow","poly":"y3","year":1916.4,"top":0,"bottom":260},{"band":"yellow","poly":"y3","year":1918.6,"top":0,"bottom":310},{"band":"yellow","poly":"y3","year":1920.2,"top":0,"bottom":300},{"band":"yellow","poly":"y3","year":1921.2,"top":0,"bottom":330},{"band":"yellow","poly":"y3","year":1921.8,"top":0,"bottom":210},{"band":"yellow","poly":"y3","year":1922.8,"top":0,"bottom":160},{"band":"yellow","poly":"y3","year":1924.5,"top":0,"bottom":260},{"band":"yellow","poly":"y3","year":1925.5,"top":0,"bottom":280},{"band":"yellow","poly":"y3","year":1926.1,"top":0,"bottom":280},{"band":"yellow","poly":"y3","year":1926.4,"top":0,"bottom":420},{"band":"yellow","poly":"y3","year":1927.4,"top":0,"bottom":580},{"band":"yellow","poly":"y3","year":1929.4,"top":0,"bottom":570},{"band":"yellow","poly":"y3","year":1931.5,"top":0,"bottom":510},{"band":"yellow","poly":"y3","year":1934.8,"top":0,"bottom":500},{"band":"yellow","poly":"y3","year":1938.6,"top":0,"bottom":510},{"band":"yellow","poly":"y3","year":1939.4,"top":0,"bottom":630},{"band":"yellow","poly":"y3","year":1942.4,"top":0,"bottom":740},{"band":"yellow","poly":"y3","year":1944.6,"top":0,"bottom":790},{"band":"yellow","poly":"y3","year":1947.8,"top":0,"bottom":980},{"band":"yellow","poly":"y3","year":1950,"top":0,"bottom":920},{"band":"yellow","poly":"y3","year":1953.2,"top":0,"bottom":1020},{"band":"yellow","poly":"y3","year":1955.9,"top":0,"bottom":980},{"band":"yellow","poly":"y3","year":1958.1,"top":0,"bottom":1090},{"band":"yellow","poly":"y3","year":1959.7,"top":0,"bottom":1000},{"band":"yellow","poly":"y3","year":1962,"top":0,"bottom":1200},{"band":"yellow","poly":"y3","year":1964.2,"top":0,"bottom":1200},{"band":"yellow","poly":"y3","year":1966.1,"top":0,"bottom":1170},{"band":"yellow","poly":"y3","year":1968.5,"top":0,"bottom":1220},{"band":"yellow","poly":"y3","year":1971.2,"top":0,"bottom":1240},{"band":"yellow","poly":"y3","year":1973.4,"top":0,"bottom":1370},{"band":"yellow","poly":"y3","year":1977.2,"top":0,"bottom":1400},{"band":"yellow","poly":"y3","year":1978.8,"top":0,"bottom":1420},{"band":"yellow","poly":"y3","year":1981.7,"top":0,"bottom":1580},{"band":"yellow","poly":"y3","year":1984.9,"top":0,"bottom":1600},{"band":"yellow","poly":"y3","year":1988.1,"top":0,"bottom":1590},{"band":"yellow","poly":"y3","year":1990.7,"top":0,"bottom":1660},{"band":"yellow","poly":"y3","year":1993.2,"top":0,"bottom":1670},{"band":"yellow","poly":"y3","year":1996.5,"top":0,"bottom":1860},{"band":"yellow","poly":"y3","year":2001,"top":0,"bottom":1990},
{"band":"orange","poly":"o1","year":1913.4,"top":150,"bottom":200},{"band":"orange","poly":"o1","year":1914.1,"top":130,"bottom":240},{"band":"orange","poly":"o1","year":1915.1,"top":150,"bottom":210},
{"band":"orange","poly":"o2","year":1928.7,"top":0,"bottom":0},{"band":"orange","poly":"o2","year":1928.8,"top":0,"bottom":400},{"band":"orange","poly":"o2","year":1931,"top":0,"bottom":330},{"band":"orange","poly":"o2","year":1934.3,"top":0,"bottom":290},{"band":"orange","poly":"o2","year":1938.6,"top":0,"bottom":190},{"band":"orange","poly":"o2","year":1941,"top":0,"bottom":280},{"band":"orange","poly":"o2","year":1942.4,"top":0,"bottom":400},{"band":"orange","poly":"o2","year":1946.2,"top":0,"bottom":510},{"band":"orange","poly":"o2","year":1951.1,"top":0,"bottom":580},{"band":"orange","poly":"o2","year":1955.4,"top":0,"bottom":640},{"band":"orange","poly":"o2","year":1960.9,"top":0,"bottom":760},{"band":"orange","poly":"o2","year":1962,"top":0,"bottom":770},{"band":"orange","poly":"o2","year":1965.3,"top":0,"bottom":740},{"band":"orange","poly":"o2","year":1968,"top":0,"bottom":760},{"band":"orange","poly":"o2","year":1971.2,"top":0,"bottom":860},{"band":"orange","poly":"o2","year":1974.5,"top":0,"bottom":930},{"band":"orange","poly":"o2","year":1977.7,"top":0,"bottom":950},{"band":"orange","poly":"o2","year":1980.4,"top":0,"bottom":1100},{"band":"orange","poly":"o2","year":1984.9,"top":0,"bottom":1120},{"band":"orange","poly":"o2","year":1989.4,"top":0,"bottom":1200},{"band":"orange","poly":"o2","year":1993.9,"top":0,"bottom":1210},{"band":"orange","poly":"o2","year":1997.1,"top":0,"bottom":1320},{"band":"orange","poly":"o2","year":2001,"top":0,"bottom":1460},
{"band":"dark","poly":"r1","year":1915.2,"top":0,"bottom":0},{"band":"dark","poly":"r1","year":1915.5,"top":0,"bottom":120},{"band":"dark","poly":"r1","year":1917.4,"top":0,"bottom":130},{"band":"dark","poly":"r1","year":1921.8,"top":0,"bottom":120},{"band":"dark","poly":"r1","year":1923.9,"top":0,"bottom":120},{"band":"dark","poly":"r1","year":1926.1,"top":0,"bottom":130},{"band":"dark","poly":"r1","year":1928.7,"top":0,"bottom":160},{"band":"dark","poly":"r1","year":1928.8,"top":0,"bottom":250},{"band":"dark","poly":"r1","year":1931.2,"top":0,"bottom":260},{"band":"dark","poly":"r1","year":1933.4,"top":0,"bottom":270},{"band":"dark","poly":"r1","year":1936.4,"top":0,"bottom":280},{"band":"dark","poly":"r1","year":1938.6,"top":0,"bottom":210},{"band":"dark","poly":"r1","year":1940.3,"top":0,"bottom":290},{"band":"dark","poly":"r1","year":1941.4,"top":0,"bottom":190},{"band":"dark","poly":"r1","year":1946.2,"top":0,"bottom":210},{"band":"dark","poly":"r1","year":1946.7,"top":0,"bottom":330},{"band":"dark","poly":"r1","year":1950,"top":0,"bottom":410},{"band":"dark","poly":"r1","year":1955.9,"top":0,"bottom":410},{"band":"dark","poly":"r1","year":1958.1,"top":0,"bottom":370},{"band":"dark","poly":"r1","year":1959.7,"top":0,"bottom":210},{"band":"dark","poly":"r1","year":1959.8,"top":0,"bottom":140},{"band":"dark","poly":"r1","year":1961.2,"top":0,"bottom":210},{"band":"dark","poly":"r1","year":1962,"top":0,"bottom":380},{"band":"dark","poly":"r1","year":1963.1,"top":0,"bottom":330},{"band":"dark","poly":"r1","year":1965.3,"top":0,"bottom":500},{"band":"dark","poly":"r1","year":1966.1,"top":0,"bottom":420},{"band":"dark","poly":"r1","year":1966.9,"top":0,"bottom":530},{"band":"dark","poly":"r1","year":1969.1,"top":0,"bottom":580},{"band":"dark","poly":"r1","year":1971.2,"top":0,"bottom":560},{"band":"dark","poly":"r1","year":1974.5,"top":0,"bottom":620},{"band":"dark","poly":"r1","year":1977.2,"top":0,"bottom":650},{"band":"dark","poly":"r1","year":1978.8,"top":0,"bottom":730},{"band":"dark","poly":"r1","year":1981.7,"top":0,"bottom":730},{"band":"dark","poly":"r1","year":1984.9,"top":0,"bottom":840},{"band":"dark","poly":"r1","year":1988.1,"top":0,"bottom":940},{"band":"dark","poly":"r1","year":1990.7,"top":0,"bottom":940},{"band":"dark","poly":"r1","year":1993.9,"top":0,"bottom":1000},{"band":"dark","poly":"r1","year":1997.1,"top":0,"bottom":1080},{"band":"dark","poly":"r1","year":2001,"top":0,"bottom":1160},
{"band":"dark","poly":"r2","year":1958.1,"top":370,"bottom":400},{"band":"dark","poly":"r2","year":1959,"top":430,"bottom":470},{"band":"dark","poly":"r2","year":1959.8,"top":470,"bottom":490},{"band":"dark","poly":"r2","year":1961.5,"top":480,"bottom":510},
{"band":"red","poly":"s1","year":1920.7,"top":0,"bottom":35},{"band":"red","poly":"s1","year":1923.9,"top":0,"bottom":35},
{"band":"red","poly":"s2","year":1931.2,"top":0,"bottom":90},{"band":"red","poly":"s2","year":1937.5,"top":0,"bottom":90},
{"band":"red","poly":"s3","year":1941,"top":0,"bottom":110},{"band":"red","poly":"s3","year":1947.8,"top":0,"bottom":110},
{"band":"red","poly":"s4","year":1948.4,"top":0,"bottom":50},{"band":"red","poly":"s4","year":1952.7,"top":0,"bottom":50},
{"band":"red","poly":"s5","year":1953.2,"top":0,"bottom":120},{"band":"red","poly":"s5","year":1959.8,"top":0,"bottom":120},{"band":"red","poly":"s5","year":1961.2,"top":0,"bottom":70},{"band":"red","poly":"s5","year":1962.8,"top":0,"bottom":70},{"band":"red","poly":"s5","year":1963.6,"top":0,"bottom":110},{"band":"red","poly":"s5","year":1965.3,"top":0,"bottom":120},{"band":"red","poly":"s5","year":1966.9,"top":0,"bottom":70},{"band":"red","poly":"s5","year":1969.1,"top":0,"bottom":160},{"band":"red","poly":"s5","year":1970.2,"top":0,"bottom":250},{"band":"red","poly":"s5","year":1972.3,"top":0,"bottom":160},{"band":"red","poly":"s5","year":1974,"top":0,"bottom":250},{"band":"red","poly":"s5","year":1975,"top":0,"bottom":160},{"band":"red","poly":"s5","year":1978.3,"top":0,"bottom":300},{"band":"red","poly":"s5","year":1980.4,"top":0,"bottom":380},{"band":"red","poly":"s5","year":1984.9,"top":0,"bottom":380},{"band":"red","poly":"s5","year":1989.4,"top":0,"bottom":440},{"band":"red","poly":"s5","year":1993.2,"top":0,"bottom":520},{"band":"red","poly":"s5","year":1997.1,"top":0,"bottom":530},{"band":"red","poly":"s5","year":2001,"top":0,"bottom":600},
{"band":"dark","poly":"r3","year":1961.5,"top":0,"bottom":60},{"band":"dark","poly":"r3","year":1962.6,"top":0,"bottom":60},
{"band":"dark","poly":"r4","year":1964.7,"top":0,"bottom":60},{"band":"dark","poly":"r4","year":1965.5,"top":0,"bottom":60},
{"band":"orange","poly":"o3","year":1928.8,"top":30,"bottom":60},{"band":"orange","poly":"o3","year":1929.6,"top":15,"bottom":110},{"band":"orange","poly":"o3","year":1930.5,"top":30,"bottom":60},
{"band":"orange","poly":"o5","year":1954.3,"top":170,"bottom":210},{"band":"orange","poly":"o5","year":1955,"top":140,"bottom":270},{"band":"orange","poly":"o5","year":1955.9,"top":170,"bottom":220},
{"band":"orange","poly":"o8","year":1966.6,"top":190,"bottom":220},{"band":"orange","poly":"o8","year":1967.3,"top":150,"bottom":260},{"band":"orange","poly":"o8","year":1967.9,"top":180,"bottom":220},
{"band":"orange","poly":"o9","year":1924,"top":50,"bottom":80},{"band":"orange","poly":"o9","year":1925.5,"top":50,"bottom":80}
],
"frame":[{"x0":1880,"x1":2001,"d0":0,"d1":2000}],
"cbar":[{"band":"navy","from":0,"to":1,"lo":-0.5,"hi":0.5},{"band":"mid","from":1,"to":2,"lo":-0.5,"hi":0.5},{"band":"light","from":2,"to":3,"lo":-0.5,"hi":0.5},{"band":"teal","from":3,"to":4,"lo":-0.5,"hi":0.5},{"band":"green","from":4,"to":5,"lo":-0.5,"hi":0.5},{"band":"green","from":5,"to":6,"lo":-0.5,"hi":0.5},{"band":"tan","from":6,"to":7,"lo":-0.5,"hi":0.5},{"band":"yellow","from":7,"to":8,"lo":-0.5,"hi":0.5},{"band":"orange","from":8,"to":9,"lo":-0.5,"hi":0.5},{"band":"dark","from":9,"to":10,"lo":-0.5,"hi":0.5}],
"tips":[{"band":"navy","pos":-1.01,"lo":0,"hi":0},{"band":"navy","pos":-0.5,"lo":-0.15,"hi":0.15},{"band":"navy","pos":-0.2,"lo":-0.38,"hi":0.38},{"band":"navy","pos":0,"lo":-0.5,"hi":0.5},{"band":"red","pos":10,"lo":-0.5,"hi":0.5},{"band":"red","pos":10.2,"lo":-0.38,"hi":0.38},{"band":"red","pos":10.5,"lo":-0.15,"hi":0.15},{"band":"red","pos":11.01,"lo":0,"hi":0}],
"ticklabels":[{"label":"−0.075","pos":1,"row":2.05},{"label":"−0.025","pos":3,"row":2.05},{"label":"0","pos":5,"row":2.05},{"label":"0.025","pos":7,"row":2.05},{"label":"0.075","pos":9,"row":2.05},{"label":"−0.015","pos":0,"row":-2.08},{"label":"−0.05","pos":2,"row":-2.08},{"label":"−0.01","pos":4,"row":-2.08},{"label":"0.01","pos":6,"row":-2.08},{"label":"0.05","pos":8,"row":-2.08},{"label":"0.15","pos":10,"row":-2.08}]
},
"vconcat":[
{"width":914,"height":202,"resolve":{"axis":{"y":"independent"}},"layer":[
{"data":{"name":"v"},"mark":{"type":"area","orient":"vertical","interpolate":"linear"},"encoding":{
"x":{"field":"year","type":"quantitative","scale":{"domain":[1853.4,1880,1900,1920,1940,1960,1980,2000,2001,2008.2],"range":[0,154.7,271,393,515.7,638,761,865,871,914],"nice":false,"zero":false},"axis":{"values":[1880,1900,1920,1940,1960,1980,2000],"tickSize":6,"labels":false,"offset":-10.3}},
"y":{"field":"top","type":"quantitative","scale":{"domain":[-673.6,2143.7],"range":[0,202],"nice":false,"zero":false},"axis":{"orient":"left","offset":-154.7,"values":[0,500,1000,1500,2000],"tickSize":8,"labelPadding":4,"labelExpr":"datum.value % 1000 === 0 ? format(datum.value, ',') : ''"}},
"y2":{"field":"bottom"},
"color":{"field":"band","type":"nominal","legend":null,"scale":{"domain":["navy","mid","light","teal","green","tan","yellow","orange","dark","red"],"range":["#1f2a85","#5b8bcb","#94cde8","#0f9ab5","#0f8455","#d3a97c","#f6d21c","#f49a1e","#a12a2b","#e8161f"]}},
"detail":{"field":"poly"}}},
{"data":{"name":"frame"},"mark":{"type":"rect","fillOpacity":0,"stroke":"#333333","strokeWidth":1.5},"encoding":{
"x":{"field":"x0","type":"quantitative"},"x2":{"field":"x1"},
"y":{"field":"d0","type":"quantitative","axis":{"orient":"right","offset":-43,"values":[0,500,1000,1500,2000],"tickSize":9,"labels":false}},"y2":{"field":"d1"}}},
{"data":{"values":[{"label":"V","year":1879.5,"depth":-325}]},"mark":{"type":"text","align":"left","fontSize":28.5,"fontStyle":"italic","color":"#333333"},"encoding":{"x":{"field":"year","type":"quantitative"},"y":{"field":"depth","type":"quantitative","axis":null},"text":{"field":"label"}}},
{"data":{"values":[{"label":"multi-simulation average","year":1883.8,"depth":-325}]},"mark":{"type":"text","align":"left","fontSize":28.5,"color":"#333333"},"encoding":{"x":{"field":"year","type":"quantitative"},"y":{"field":"depth","type":"quantitative","axis":null},"text":{"field":"label"}}}
]},
{"width":914,"height":225,"resolve":{"axis":{"y":"independent"}},"layer":[
{"data":{"name":"nonv"},"mark":{"type":"area","orient":"vertical","interpolate":"linear"},"encoding":{
"x":{"field":"year","type":"quantitative","scale":{"domain":[1853.4,1880,1900,1920,1940,1960,1980,2000,2001,2008.2],"range":[0,154.7,271,393,515.7,638,761,865,871,914],"nice":false,"zero":false},"axis":{"values":[1880,1900,1920,1940,1960,1980,2000],"tickSize":6,"labelPadding":3,"format":"d","offset":-40}},
"y":{"field":"top","type":"quantitative","scale":{"domain":[-581.6,2556.5],"range":[0,225],"nice":false,"zero":false},"axis":{"orient":"left","offset":-154.7,"values":[0,500,1000,1500,2000],"tickSize":8,"labelPadding":4,"labelExpr":"datum.value % 1000 === 0 ? format(datum.value, ',') : ''"}},
"y2":{"field":"bottom"},
"color":{"field":"band","type":"nominal","legend":null,"scale":{"domain":["navy","mid","light","teal","green","tan","yellow","orange","dark","red"],"range":["#1f2a85","#5b8bcb","#94cde8","#0f9ab5","#0f8455","#d3a97c","#f6d21c","#f49a1e","#a12a2b","#e8161f"]}},
"detail":{"field":"poly"}}},
{"data":{"name":"frame"},"mark":{"type":"rect","fillOpacity":0,"stroke":"#333333","strokeWidth":1.5},"encoding":{
"x":{"field":"x0","type":"quantitative"},"x2":{"field":"x1"},
"y":{"field":"d0","type":"quantitative","axis":{"orient":"right","offset":-43,"values":[0,500,1000,1500,2000],"tickSize":9,"labels":false}},"y2":{"field":"d1"}}},
{"data":{"values":[{"label":"V","year":1890.2,"depth":-345}]},"mark":{"type":"text","align":"left","fontSize":28.5,"fontStyle":"italic","color":"#333333"},"encoding":{"x":{"field":"year","type":"quantitative"},"y":{"field":"depth","type":"quantitative","axis":null},"text":{"field":"label"}}},
{"data":{"values":[{"label":"Non-","year":1879.5,"depth":-345},{"label":"multi-simulation average","year":1894.7,"depth":-345}]},"mark":{"type":"text","align":"left","fontSize":28.5,"color":"#333333"},"encoding":{"x":{"field":"year","type":"quantitative"},"y":{"field":"depth","type":"quantitative","axis":null},"text":{"field":"label"}}},
{"data":{"values":[{"label":"Depth (m)","year":1858.6,"depth":-142}]},"mark":{"type":"text","angle":270,"fontSize":23.5,"color":"#333333"},"encoding":{"x":{"field":"year","type":"quantitative"},"y":{"field":"depth","type":"quantitative","axis":null},"text":{"field":"label"}}}
]},
{"width":914,"height":129,"layer":[
{"data":{"name":"tips"},"mark":{"type":"area","orient":"vertical","stroke":"#222222","strokeWidth":1},"encoding":{
"x":{"field":"pos","type":"quantitative","axis":null,"scale":{"domain":[-6.224,13.877],"nice":false,"zero":false}},
"y":{"field":"lo","type":"quantitative","axis":null,"scale":{"domain":[-7.41,4.645],"nice":false,"zero":false}},"y2":{"field":"hi"},
"color":{"field":"band","type":"nominal","legend":null,"scale":{"domain":["navy","mid","light","teal","green","tan","yellow","orange","dark","red"],"range":["#1f2a85","#5b8bcb","#94cde8","#0f9ab5","#0f8455","#d3a97c","#f6d21c","#f49a1e","#a12a2b","#e8161f"]}}}},
{"data":{"name":"cbar"},"mark":{"type":"rect","stroke":"#222222","strokeWidth":1.2},"encoding":{
"x":{"field":"from","type":"quantitative"},"x2":{"field":"to"},
"y":{"field":"lo","type":"quantitative"},"y2":{"field":"hi"},
"color":{"field":"band","type":"nominal"}}},
{"data":{"name":"ticklabels"},"mark":{"type":"text","fontSize":22,"color":"#3a3a3a"},"encoding":{"x":{"field":"pos","type":"quantitative"},"y":{"field":"row","type":"quantitative"},"text":{"field":"label"}}},
{"data":{"values":[{"label":"Temperature (°C)","pos":5,"row":-5.35}]},"mark":{"type":"text","fontSize":29.5,"color":"#333333"},"encoding":{"x":{"field":"pos","type":"quantitative"},"y":{"field":"row","type":"quantitative"},"text":{"field":"label"}}}
]}
]}
